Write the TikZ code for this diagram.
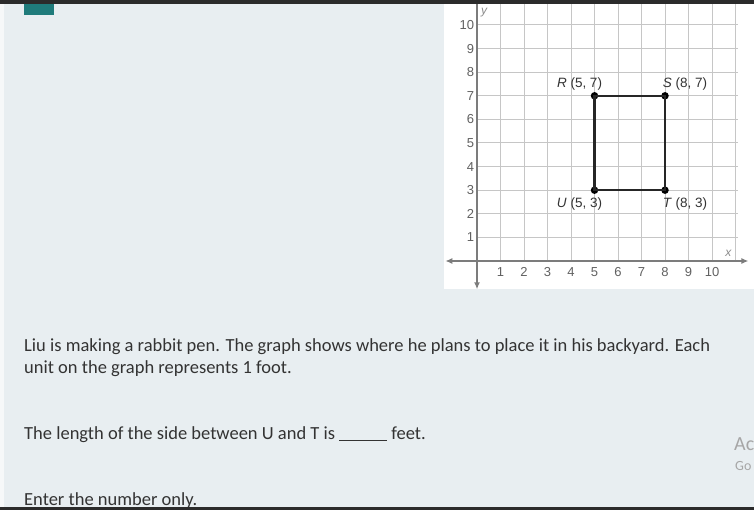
\documentclass[tikz,border=0pt]{standalone}
\usepackage{fontspec}
\setmainfont{Carlito}
\newfontfamily\graphfont{Liberation Sans}
\usetikzlibrary{arrows.meta}

\definecolor{pagebg}{HTML}{E8EEF1}
\definecolor{gridgray}{HTML}{C6C6C6}
\definecolor{axisgray}{HTML}{7C7C7C}
\definecolor{tealbox}{HTML}{1F7B7B}
\definecolor{topbar}{HTML}{2B2B2B}
\definecolor{bodytext}{HTML}{333333}

\begin{document}
\begin{tikzpicture}[x=1pt,y=-1pt]
	\tikzstyle{grid line}=[draw=gridgray, line width=1pt]
	\tikzstyle{axis}=[draw=axisgray, line width=1.6pt, {Latex[length=7pt,width=6pt]}-{Latex[length=7pt,width=6pt]}]
	\tikzstyle{tick label}=[font=\graphfont\fontsize{13}{15}\selectfont, text=black!62, inner sep=0pt]
	\tikzstyle{corner}=[circle, fill=black, minimum size=7.5pt, inner sep=0pt]
	\tikzstyle{corner label}=[font=\graphfont\fontsize{13.5}{15}\selectfont, text=black!80, inner sep=0pt]
	\tikzstyle{axis name}=[font=\graphfont\itshape\fontsize{12}{14}\selectfont, text=black!45, inner sep=0pt]
	\tikzstyle{question}=[anchor=base west, font=\fontsize{18.5}{21}\selectfont, text=bodytext, inner sep=0pt]
	\tikzstyle{watermark}=[anchor=base west, text=black!35, inner sep=0pt]
	
	\useasboundingbox (0,0) rectangle (754,510);
	\clip (0,0) rectangle (754,510);
	% Draw the page background
	\fill[pagebg] (0,0) rectangle (754,510);
	\fill[white!60!pagebg] (0,0) rectangle (4,510);
	\fill[white] (444,0) rectangle (754,289);
	
	% Draw the grid and the axes
	\begin{scope}[shift={(477pt,-261pt)}, x=23.5pt, y=23.6pt]
		\foreach \x in {1,...,11}
		\draw[grid line] (\x,0) -- (\x,11.2);
		\foreach \y in {1,...,11}
		\draw[grid line] (0,\y) -- (11.1,\y);
		
		\coordinate (x-start) at (-1.35,0);
		\coordinate (x-end) at (11.55,0);
		\coordinate (y-start) at (0,-1.2);
		\coordinate (y-end) at (0,11.5);
		\draw[axis] (x-start) -- (x-end);
		\draw[axis] (y-start) -- (y-end);
		
		% Number the axes
		\foreach \x in {1,...,10}
		\node[tick label] (xl-\x) at (\x,-0.46) {\x};
		\foreach \y in {1,...,10}
		\node[tick label, anchor=east] (yl-\y) at (-0.12,\y) {\y};
		\node[axis name] (x-name) at (10.7,0.34) {x};
		\node[axis name] (y-name) at (0.3,10.53) {y};
		
		% Draw the corners of the pen
		\node[corner] (R) at (5,7) {};
		\node[corner] (S) at (8,7) {};
		\node[corner] (T) at (8,3) {};
		\node[corner] (U) at (5,3) {};
	\end{scope}
	
	\draw[line width=2.3pt, black!85] (R.center) -- (S.center) -- (T.center) -- (U.center) -- cycle;
	
	% Label the corners
	\node[corner label] (R-name) at ([xshift=-15pt,yshift=12pt]R) {\textit{R} (5, 7)};
	\node[corner label] (S-name) at ([xshift=20pt,yshift=12pt]S) {\textit{S} (8, 7)};
	\node[corner label] (U-name) at ([xshift=-15pt,yshift=-14pt]U) {\textit{U} (5, 3)};
	\node[corner label] (T-name) at ([xshift=20pt,yshift=-14pt]T) {\textit{T} (8, 3)};
	
	% Question text
	\node[question] (line-1) at (24,351) {Liu is making a rabbit pen. The graph shows where he plans to place it in his backyard. Each};
	\node[question] (line-2) at (24,373) {unit on the graph represents 1 foot.};
	\node[question] (line-3) at (24,439) {The length of the side between U and T is \rule[-1.5pt]{48pt}{0.7pt} feet.};
	\node[question] (line-4) at (24,505) {Enter the number only.};
	\node[watermark, font=\fontsize{20}{22}\selectfont] (ac) at (734,450) {Ac};
	\node[watermark, font=\fontsize{14}{16}\selectfont] (go) at (735,470) {Go};
	
	% Window edges
	\fill[topbar] (0,0) rectangle (754,4);
	\fill[tealbox] (24,4) rectangle (54,15);
	\fill[topbar] (0,507) rectangle (754,510);
\end{tikzpicture}
\end{document}
